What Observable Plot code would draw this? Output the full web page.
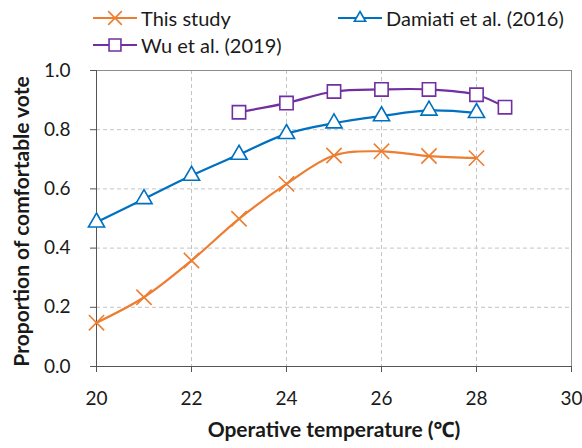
<!DOCTYPE html>
<html><head><meta charset="utf-8">
<script src="https://cdn.jsdelivr.net/npm/d3@7"></script>
<script src="https://cdn.jsdelivr.net/npm/@observablehq/plot@0.6"></script>
<style>
body{margin:0;background:#fff;font-family:Lato, "Noto Sans", sans-serif;}
#wrap{position:relative;width:582px;height:448px;overflow:hidden;}
#legend{position:relative;height:50px;}
.item{position:absolute;display:flex;align-items:center;font-size:20px;color:#1a1a1a;white-space:nowrap;}
.item svg{display:block;margin-right:3px;}
</style></head><body>
<div id="wrap"><div id="legend"></div><div id="chart"></div></div>
<script>
// Data
const temps = [20, 21, 22, 23, 24, 25, 26, 27, 28];
const thisStudy = [0.148, 0.234, 0.358, 0.499, 0.617, 0.713, 0.727, 0.711, 0.704];
const damiati = [0.487, 0.566, 0.645, 0.716, 0.786, 0.822, 0.846, 0.865, 0.857];
const wuTemps = [23, 24, 25, 26, 27, 28, 28.6];
const wu = [0.859, 0.890, 0.929, 0.936, 0.936, 0.918, 0.876];
const seriesNames = ["This study", "Damiati et al. (2016)", "Wu et al. (2019)"];
const seriesColors = ["#ED7D31", "#0070C0", "#7030A0"];
const seriesSymbols = ["times", "triangle", "square"];
const seriesSizes = [7, 6, 7.5];
const xTicks = [20, 22, 24, 26, 28, 30];
const yTicks = [0, 0.2, 0.4, 0.6, 0.8, 1.0];
const xGrid = [22, 24, 26, 28];
const yGrid = [0.2, 0.4, 0.6, 0.8];
const xTitle = "Operative temperature (℃)";
const yTitle = "Proportion of comfortable vote";

const data = [
  ...temps.map((t, i) => ({series: seriesNames[0], x: t, y: thisStudy[i]})),
  ...temps.map((t, i) => ({series: seriesNames[1], x: t, y: damiati[i]})),
  ...wuTemps.map((t, i) => ({series: seriesNames[2], x: t, y: wu[i]}))
];

// Legend (HTML above the SVG)
const legendPos = [{left: 92, top: 6}, {left: 337, top: 6}, {left: 92, top: 33}];
const legend = document.getElementById("legend");
seriesNames.forEach((name, i) => {
  const div = document.createElement("div");
  div.className = "item";
  div.style.left = legendPos[i].left + "px";
  div.style.top = legendPos[i].top + "px";
  div.style.zIndex = 2;
  const sym = {times: d3.symbolTimes, triangle: d3.symbolTriangle2, square: d3.symbolSquare}[seriesSymbols[i]];
  const svg = d3.create("svg").attr("width", 46).attr("height", 22);
  svg.append("line").attr("x1", 1).attr("x2", 45).attr("y1", 11).attr("y2", 11)
    .attr("stroke", seriesColors[i]).attr("stroke-width", 2);
  svg.append("path").attr("d", d3.symbol(sym, Math.PI * seriesSizes[i] ** 2 * 0.8)())
    .attr("transform", "translate(23,11)")
    .attr("fill", seriesSymbols[i] === "times" ? "none" : "white")
    .attr("stroke", seriesColors[i]).attr("stroke-width", 1.6);
  div.appendChild(svg.node());
  const span = document.createElement("span");
  span.textContent = name;
  div.appendChild(span);
  legend.appendChild(div);
});

const sizeOf = s => seriesSizes[seriesNames.indexOf(s)];

const chart = Plot.plot({
  width: 582,
  height: 398,
  marginLeft: 96,
  marginRight: 11,
  marginTop: 20,
  marginBottom: 82,
  style: {fontFamily: "Lato, 'Noto Sans', sans-serif", fontSize: "19px", color: "#1a1a1a", background: "transparent"},
  x: {domain: [20, 30]},
  y: {domain: [0, 1]},
  r: {type: "identity"},
  color: {domain: seriesNames, range: seriesColors},
  symbol: {domain: seriesNames, range: seriesSymbols},
  marks: [
    Plot.gridX(xGrid, {stroke: "#c4c4c4", strokeOpacity: 1, strokeDasharray: "4,3"}),
    Plot.gridY(yGrid, {stroke: "#c4c4c4", strokeOpacity: 1, strokeDasharray: "4,3"}),
    Plot.frame({stroke: "#8c8c8c"}),
    Plot.axisX({ticks: xTicks, tickSize: 6, tickPadding: 19, tickFormat: d => d, label: null, stroke: "#555"}),
    Plot.axisY({ticks: yTicks, tickSize: 6, tickPadding: 20, tickFormat: d3.format(".1f"), label: null, stroke: "#555"}),
    Plot.ruleX([20], {stroke: "#555"}),
    Plot.ruleY([0], {stroke: "#555"}),
    Plot.line(data, {x: "x", y: "y", z: "series", stroke: "series", strokeWidth: 2.2, curve: "catmull-rom"}),
    Plot.dot(data, {x: "x", y: "y", symbol: "series", stroke: "series", r: d => sizeOf(d.series), fill: d => d.series === seriesNames[0] ? "none" : "white", strokeWidth: 1.6}),
    Plot.text([xTitle], {frameAnchor: "bottom", dy: 70, fontWeight: "bold", fontSize: 21, fill: "#1a1a1a"}),
    Plot.text([yTitle], {frameAnchor: "left", textAnchor: "middle", dx: -74, dy: 3, rotate: -90, fontWeight: "bold", fontSize: 21, fill: "#1a1a1a"})
  ]
});
chart.style.position = "absolute";
chart.style.left = "0px";
chart.style.top = "50px";
document.getElementById("chart").appendChild(chart);
</script>
</body></html>
